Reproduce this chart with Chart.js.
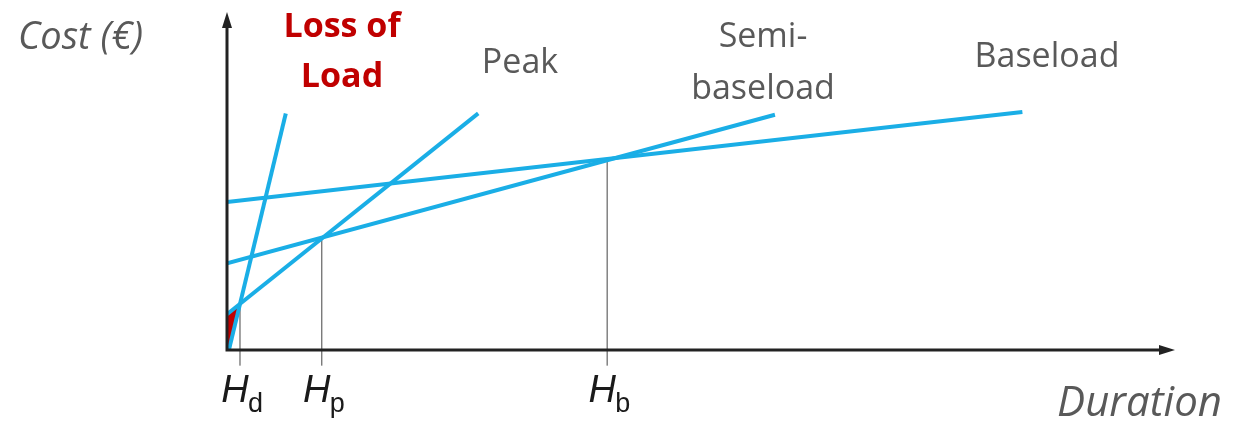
<!DOCTYPE html>
<html>
<head>
<meta charset="utf-8">
<script src="https://cdn.jsdelivr.net/npm/chart.js@4"></script>
<style>
  body { margin: 0; background: #fff; }
  #wrap { width: 1253px; height: 421px; }
</style>
</head>
<body>
<div id="wrap"><canvas id="costChart"></canvas></div>
<script>
// cost lines: [x, y] end points in chart units (duration 0-100, cost 0-100)
const lossOfLoad = [[0.2, 0], [6.2, 70]];
const peak = [[0, 10.6], [26.5, 70]];
const semiBaseload = [[0, 25.7], [57.8, 69.6]];
const baseload = [[0, 43.8], [83.9, 70.4]];

// red area between the axis, the loss-of-load line and the peak line
const lossArea = [[0, 0], [0.2, 0], [1.37, 13.6], [0, 10.6]];

// duration thresholds and the cost where the lines cross
const thresholdNames = ['d', 'p', 'b'];
const thresholdX = [1.37, 10.0, 40.1];
const thresholdY = [13.6, 33.7, 56.8];

// label text, centre x and baseline y of every row
const lineLabels = [
    { text: ['Loss of', 'Load'], x: 342, y: [37, 87], color: '#c00000', bold: true },
    { text: ['Peak'], x: 520, y: [73], color: '#595959' },
    { text: ['Semi-', 'baseload'], x: 763, y: [47, 99], color: '#595959' },
    { text: ['Baseload'], x: 1047, y: [67], color: '#595959' }
];

const blue = '#1aaee6';
const toPoints = arr => arr.map(p => ({ x: p[0], y: p[1] }));

const datasets = [
    { data: toPoints(lossOfLoad), borderColor: blue, borderWidth: 4, order: 1 },
    { data: toPoints(peak), borderColor: blue, borderWidth: 4, order: 1 },
    { data: toPoints(semiBaseload), borderColor: blue, borderWidth: 4, order: 1 },
    { data: toPoints(baseload), borderColor: blue, borderWidth: 4, order: 1 },
    { data: toPoints(lossArea), borderColor: '#c00000', borderWidth: 0, backgroundColor: '#c00000', fill: 'shape', order: 3 }
];
thresholdX.forEach((x, i) => {
    datasets.push({ data: [{ x: x, y: -4.6 }, { x: x, y: thresholdY[i] }], borderColor: '#444', borderWidth: 1, order: 2 });
});

const axesPlugin = {
    id: 'axes',
    afterDatasetsDraw(chart) {
        const ctx = chart.ctx;
        const xs = chart.scales.x, ys = chart.scales.y;
        const x0 = xs.getPixelForValue(0), y0 = ys.getPixelForValue(0);
        const xEnd = xs.getPixelForValue(100), yEnd = ys.getPixelForValue(100);
        ctx.save();
        ctx.strokeStyle = '#222';
        ctx.fillStyle = '#222';
        ctx.lineWidth = 3;
        ctx.beginPath();
        ctx.moveTo(x0, y0);
        ctx.lineTo(x0, yEnd + 12);
        ctx.moveTo(x0 - 1.5, y0);
        ctx.lineTo(xEnd - 12, y0);
        ctx.stroke();
        ctx.beginPath();
        ctx.moveTo(x0, yEnd);
        ctx.lineTo(x0 - 5, yEnd + 16);
        ctx.lineTo(x0 + 5, yEnd + 16);
        ctx.closePath();
        ctx.moveTo(xEnd, y0);
        ctx.lineTo(xEnd - 16, y0 - 5);
        ctx.lineTo(xEnd - 16, y0 + 5);
        ctx.closePath();
        ctx.fill();
        ctx.restore();
    }
};

const textPlugin = {
    id: 'texts',
    afterDraw(chart) {
        const ctx = chart.ctx;
        const xs = chart.scales.x;
        ctx.save();
        ctx.textBaseline = 'alphabetic';

        ctx.fillStyle = '#595959';
        ctx.textAlign = 'left';
        ctx.font = 'italic 38px "Open Sans"';
        ctx.fillText('Cost (€)', 18, 49);
        ctx.font = 'italic 42px "Open Sans"';
        ctx.textAlign = 'right';
        ctx.fillText('Duration', 1222, 416);

        ctx.textAlign = 'center';
        lineLabels.forEach(l => {
            ctx.fillStyle = l.color;
            ctx.font = (l.bold ? 'bold ' : '') + '34px "Open Sans"';
            l.text.forEach((t, i) => ctx.fillText(t, l.x, l.y[i]));
        });

        ctx.fillStyle = '#1a1a1a';
        thresholdX.forEach((x, i) => {
            const px = xs.getPixelForValue(x);
            ctx.textAlign = 'center';
            ctx.font = 'italic 38px "Liberation Sans"';
            ctx.fillText('H', px - 5, 402);
            ctx.textAlign = 'left';
            ctx.font = '27px "Liberation Sans"';
            ctx.fillText(thresholdNames[i], px + 8, 412);
        });
        ctx.restore();
    }
};

new Chart(document.getElementById('costChart'), {
    type: 'line',
    data: { datasets: datasets },
    options: {
        responsive: true,
        maintainAspectRatio: false,
        animation: false,
        layout: { padding: { left: 227, right: 78, top: 12, bottom: 55 } },
        elements: { point: { radius: 0 }, line: { tension: 0 } },
        plugins: { legend: { display: false }, tooltip: { enabled: false } },
        scales: {
            x: { type: 'linear', min: 0, max: 100, display: false },
            y: { type: 'linear', min: -4.7, max: 100, display: false }
        }
    },
    plugins: [axesPlugin, textPlugin]
});
</script>
</body>
</html>
